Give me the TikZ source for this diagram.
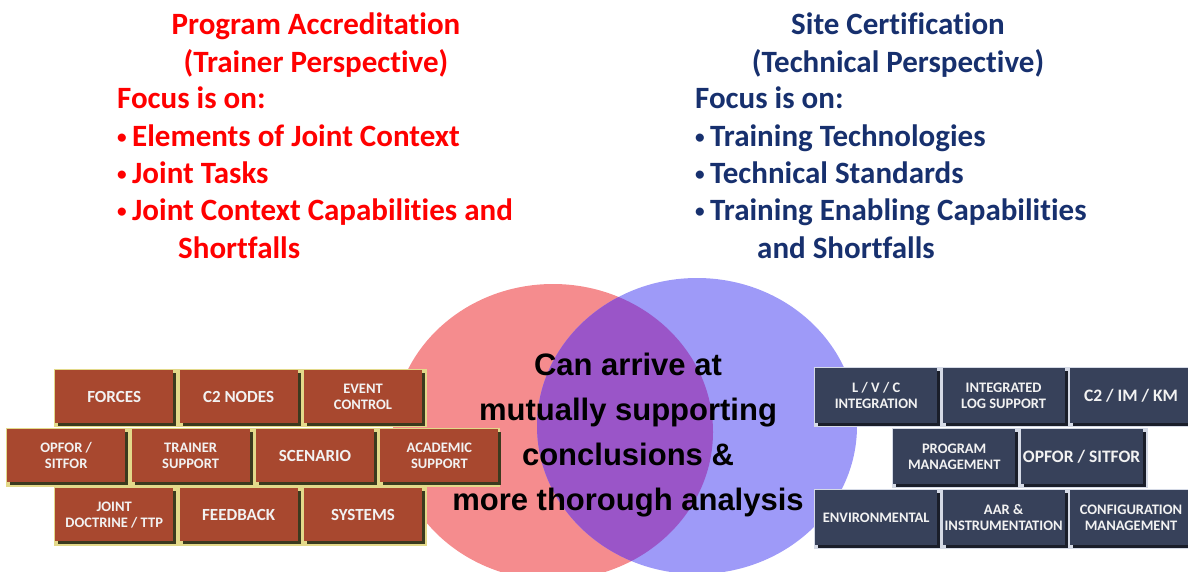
\documentclass[tikz,border=0pt]{standalone}
\usepackage{fontspec}
\setmainfont{Carlito}[Ligatures=NoCommon]
\newfontfamily\venfont{Liberation Sans}
\usetikzlibrary{positioning,shadows}
\definecolor{trainred}{HTML}{FF0000}
\definecolor{technavy}{HTML}{17306E}
\definecolor{vredfill}{HTML}{F58C8E}
\definecolor{vbluefill}{HTML}{9E9AF8}
\definecolor{vmixfill}{HTML}{9A55C8}
\definecolor{brickred}{HTML}{A8482F}
\definecolor{brickshade}{HTML}{3B3A1E}
\definecolor{brickmortar}{HTML}{E3D98A}
\definecolor{slatefill}{HTML}{37415A}
\definecolor{slateshade}{HTML}{1A1E2A}
\definecolor{slatemortar}{HTML}{D5DAE6}
\definecolor{labelwhite}{HTML}{F2F2F2}
\newcommand{\blt}{\makebox[15pt][l]{\raisebox{3pt}{\scalebox{0.62}{•}}}}

\begin{document}
\begin{tikzpicture}[x=1pt,y=-1pt,
  head/.style={inner sep=0pt, align=center, anchor=base, font=\bfseries\fontsize{31}{37.5}\selectfont},
  focus/.style={inner sep=0pt, align=left, anchor=base west, font=\bfseries\fontsize{31}{37.3}\selectfont},
  brick/.style={fill=brickred, text=labelwhite, minimum width=118pt, minimum height=53pt, inner sep=1pt,
    align=center, anchor=north west, font=\bfseries\fontsize{14.5}{16}\selectfont,
    drop shadow={shadow xshift=3pt, shadow yshift=-3pt, fill=brickshade, opacity=1}},
  bigbrick/.style={brick, font=\bfseries\fontsize{17}{18}\selectfont},
  slab/.style={brick, fill=slatefill, minimum width=122pt, minimum height=55pt,
    drop shadow={shadow xshift=3pt, shadow yshift=-3pt, fill=slateshade, opacity=1}},
  bigslab/.style={slab, font=\bfseries\fontsize{17.5}{18}\selectfont}
]
\useasboundingbox (0,0) rectangle (1188,571);

% overlapping perspectives
\fill[vredfill] (553,432) ellipse [x radius=160, y radius=148];
\fill[vbluefill] (697,426) ellipse [x radius=160, y radius=148];
\begin{scope}
  \clip (553,432) ellipse [x radius=160, y radius=148];
  \fill[vmixfill] (697,426) ellipse [x radius=160, y radius=148];
\end{scope}

% headings (anchored on the last baseline)
\node[head, text=trainred] (trainhead) at (316,72) {Program Accreditation\\(Trainer Perspective)};
\node[focus, text=trainred] (trainfocus) at (117,258) {Focus is on:\\
  \blt Elements of Joint Context\\
  \blt Joint Tasks\\
  \blt Joint Context Capabilities and\\
  \hspace*{61pt}Shortfalls};
\node[head, text=technavy] (techhead) at (898,72) {Site Certification\\(Technical Perspective)};
\node[focus, text=technavy] (techfocus) at (695,258) {Focus is on:\\
  \blt Training Technologies\\
  \blt Technical Standards\\
  \blt Training Enabling Capabilities\\
  \hspace*{62pt}and Shortfalls};

% trainer wall
\fill[brickmortar] (54,369) rectangle (427,427);
\fill[brickmortar] (6,428) rectangle (500,487);
\fill[brickmortar] (54,487) rectangle (427,546);
\node[bigbrick] (forces) at (55,370) {FORCES};
\node[bigbrick, right=6pt of forces] (c2nodes) {C2 NODES};
\node[brick, right=6pt of c2nodes] (eventctl) {EVENT\\CONTROL};
\node[brick] (opfor) at (7,429) {OPFOR /\\SITFOR};
\node[brick, right=6pt of opfor] (trainsup) {TRAINER\\SUPPORT};
\node[bigbrick, right=6pt of trainsup] (scenario) {SCENARIO};
\node[brick, right=6pt of scenario] (academic) {ACADEMIC\\SUPPORT};
\node[brick] (doctrine) at (55,488) {JOINT\\DOCTRINE / TTP};
\node[bigbrick, right=6pt of doctrine] (feedback) {FEEDBACK};
\node[bigbrick, right=6pt of feedback] (systems) {SYSTEMS};

% technical wall
\fill[slatemortar] (814,367) rectangle (1188,427);
\fill[slatemortar] (892,428) rectangle (1148,488);
\fill[slatemortar] (814,489) rectangle (1188,549);
\node[slab] (lvc) at (815,368) {L / V / C\\INTEGRATION};
\node[slab, right=5pt of lvc] (logsup) {INTEGRATED\\LOG SUPPORT};
\node[bigslab, right=5pt of logsup] (c2imkm) {C2 / IM / KM};
\node[slab] (progmgmt) at (893,429) {PROGRAM\\MANAGEMENT};
\node[bigslab, right=5pt of progmgmt] (sitfor) {OPFOR / SITFOR};
\node[slab] (environ) at (815,490) {ENVIRONMENTAL};
\node[slab, right=5pt of environ] (aar) {AAR \&\\INSTRUMENTATION};
\node[slab, right=5pt of aar] (config) {CONFIGURATION\\MANAGEMENT};

% shared conclusion
\node[inner sep=0pt, align=center, anchor=base, font=\venfont\bfseries\fontsize{31}{45}\selectfont] (shared) at (628,510)
  {Can arrive at\\mutually supporting\\conclusions \&\\more thorough analysis};
\end{tikzpicture}
\end{document}
